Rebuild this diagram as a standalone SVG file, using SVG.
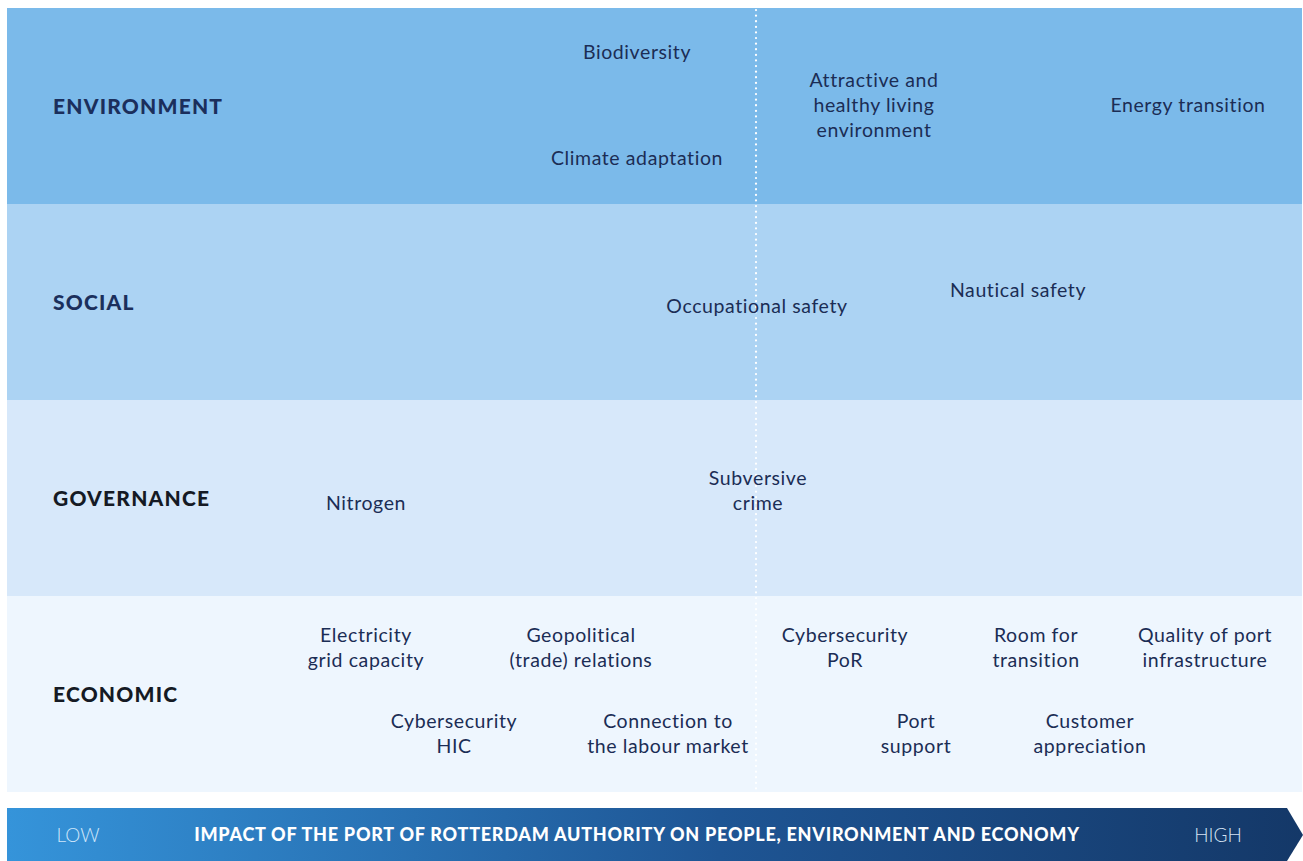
<svg xmlns="http://www.w3.org/2000/svg" width="1303" height="861" viewBox="0 0 1303 861">
<defs>
<linearGradient id="bar" x1="0" y1="0" x2="1" y2="0">
<stop offset="0" stop-color="#3594da"/>
<stop offset="0.55" stop-color="#1e5594"/>
<stop offset="1" stop-color="#143868"/>
</linearGradient>
</defs>
<style>
.t{font-family:Lato,"Noto Sans",sans-serif;font-size:19.5px;fill:#1b2d55;text-anchor:middle;dominant-baseline:central;letter-spacing:0.6px}
.h{font-family:Lato,"Noto Sans",sans-serif;font-size:21px;font-weight:900;fill:#1b2f5c;dominant-baseline:central;letter-spacing:1.2px}
.k{fill:#151a24}
.b{font-family:Lato,"Noto Sans",sans-serif;font-size:18px;fill:#ffffff;dominant-baseline:central;text-anchor:middle}
</style>
<rect width="1303" height="861" fill="#ffffff"/>
<g id="band-environment"><rect x="7" y="8" width="1295" height="196" fill="#7bbaea"/><text class="h" x="53" y="105">ENVIRONMENT</text></g>
<g id="band-social"><rect x="7" y="204" width="1295" height="196" fill="#acd3f3"/><text class="h" x="53" y="301">SOCIAL</text></g>
<g id="band-governance"><rect x="7" y="400" width="1295" height="196" fill="#d7e8fa"/><text class="h k" x="53" y="497">GOVERNANCE</text></g>
<g id="band-economic"><rect x="7" y="596" width="1295" height="196" fill="#eef6fe"/><text class="h k" x="53" y="693">ECONOMIC</text></g>
<g id="divider"><line x1="756" y1="10" x2="756" y2="792" stroke="#ffffff" stroke-width="2.2" stroke-dasharray="0.1 5.5" stroke-linecap="round"/></g>
<g id="n-biodiversity"><text class="t" x="637" y="51">Biodiversity</text></g>
<g id="n-climate"><text class="t" x="637" y="157">Climate adaptation</text></g>
<g id="n-attractive"><text class="t" x="874" y="79">Attractive and</text><text class="t" x="874" y="104">healthy living</text><text class="t" x="874" y="129">environment</text></g>
<g id="n-energy"><text class="t" x="1188" y="104">Energy transition</text></g>
<g id="n-occupational"><text class="t" x="757" y="305">Occupational safety</text></g>
<g id="n-nautical"><text class="t" x="1018" y="289">Nautical safety</text></g>
<g id="n-nitrogen"><text class="t" x="366" y="502">Nitrogen</text></g>
<g id="n-subversive"><text class="t" x="758" y="477">Subversive</text><text class="t" x="758" y="502">crime</text></g>
<g id="n-electricity"><text class="t" x="366" y="634">Electricity</text><text class="t" x="366" y="659">grid capacity</text></g>
<g id="n-geopolitical"><text class="t" x="581" y="634">Geopolitical</text><text class="t" x="581" y="659">(trade) relations</text></g>
<g id="n-cyber-por"><text class="t" x="845" y="634">Cybersecurity</text><text class="t" x="845" y="659">PoR</text></g>
<g id="n-room"><text class="t" x="1036" y="634">Room for</text><text class="t" x="1036" y="659">transition</text></g>
<g id="n-quality"><text class="t" x="1205" y="634">Quality of port</text><text class="t" x="1205" y="659">infrastructure</text></g>
<g id="n-cyber-hic"><text class="t" x="454" y="720">Cybersecurity</text><text class="t" x="454" y="745">HIC</text></g>
<g id="n-labour"><text class="t" x="668" y="720">Connection to</text><text class="t" x="668" y="745">the labour market</text></g>
<g id="n-port"><text class="t" x="916" y="720">Port</text><text class="t" x="916" y="745">support</text></g>
<g id="n-customer"><text class="t" x="1090" y="720">Customer</text><text class="t" x="1090" y="745">appreciation</text></g>
<g id="axis">
<path d="M7 808 H1287 L1303 835 L1287 861 H7 Z" fill="url(#bar)"/>
<text class="b" x="78" y="834" style="font-weight:300;fill:#cfe6fa;font-size:19px">LOW</text>
<text class="b" x="637" y="834" style="font-weight:900;letter-spacing:0.75px">IMPACT OF THE PORT OF ROTTERDAM AUTHORITY ON PEOPLE, ENVIRONMENT AND ECONOMY</text>
<text class="b" x="1218" y="834" style="font-weight:300;fill:#d5e3f3;font-size:19px">HIGH</text>
</g>
</svg>
